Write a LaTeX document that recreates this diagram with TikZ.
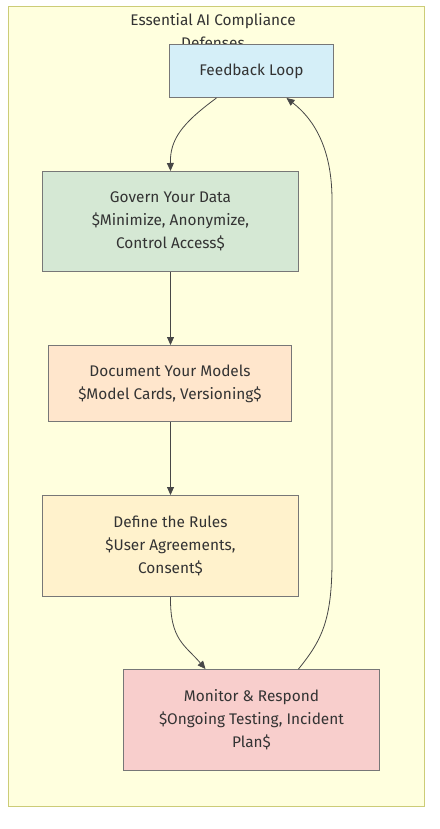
\documentclass[tikz,border=0pt]{standalone}
\usepackage{fontspec}
\setmainfont{Fira Sans}
\usetikzlibrary{arrows.meta}
\definecolor{clusterfill}{HTML}{FFFFDE}
\definecolor{clusterdraw}{HTML}{CCCC77}
\definecolor{nodedraw}{HTML}{777777}
\definecolor{txt}{HTML}{333333}
\definecolor{fbfill}{HTML}{D5EFF8}
\definecolor{govfill}{HTML}{D5E8D4}
\definecolor{docfill}{HTML}{FFE6CC}
\definecolor{deffill}{HTML}{FFF2CC}
\definecolor{monfill}{HTML}{F8CECC}
\tikzset{
  box/.style={draw=nodedraw, line width=1pt, rectangle, anchor=north west, inner sep=0pt, text=txt, align=center, font=\fontsize{15.4}{23}\selectfont},
  link/.style={draw=txt!90, line width=0.8pt, -{Triangle[length=8pt,width=7pt]}},
}
\begin{document}
\begin{tikzpicture}[x=1pt,y=-1pt]
\useasboundingbox (0,0) rectangle (439,829);
\fill[clusterfill, draw=clusterdraw, line width=1pt] (8,7) rectangle (424,806);
\node[text=txt, font=\fontsize{15.4}{23}\selectfont, align=center] (title) at (213,31) {Essential AI Compliance\\Defenses};
\node[box, fill=fbfill, minimum width=164pt, minimum height=53pt] (fb) at (169,44) {Feedback Loop};
\node[box, fill=govfill, minimum width=256pt, minimum height=100pt] (gov) at (42,171) {Govern Your Data\\\$Minimize, Anonymize,\\Control Access\$};
\node[box, fill=docfill, minimum width=243pt, minimum height=76pt] (doc) at (48,345) {Document Your Models\\\$Model Cards, Versioning\$};
\node[box, fill=deffill, minimum width=256pt, minimum height=101pt] (def) at (42,495) {Define the Rules\\\$User Agreements,\\Consent\$};
\node[box, fill=monfill, minimum width=256pt, minimum height=101pt] (mon) at (123,669) {Monitor \& Respond\\\$Ongoing Testing, Incident\\Plan\$};
\coordinate (fbout) at ([xshift=-35pt]fb.south);
\coordinate (fbin) at ([xshift=35pt]fb.south);
\coordinate (govin) at (gov.north);
\coordinate (monin) at ([xshift=-46pt]mon.north);
\coordinate (monout) at ([xshift=47pt]mon.north);
\draw[link] (fbout) .. controls (181,124) and (170,140) .. (govin);
\draw[link] (gov.south) -- (gov.south |- doc.north);
\draw[link] (gov.south |- doc.south) -- (gov.south |- def.north);
\draw[link] (def.south) .. controls (170,640) and (185,645) .. (monin);
\draw[link] (monout) .. controls (322,640) and (332,620) .. (332,560) -- (332,200) .. controls (332,150) and (315,120) .. (fbin);
\end{tikzpicture}
\end{document}
